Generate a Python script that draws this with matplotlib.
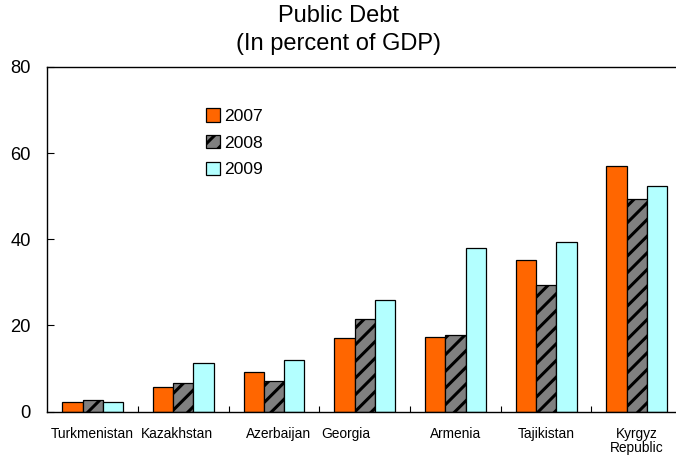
import matplotlib.pyplot as plt
import numpy as np
from matplotlib.patches import Patch

plt.rcParams['font.family'] = ['Liberation Sans', 'DejaVu Sans']
plt.rcParams['hatch.linewidth'] = 2.2

countries = ["Turkmenistan", "Kazakhstan", "Azerbaijan", "Georgia",
             "Armenia", "Tajikistan", "Kyrgyz\nRepublic"]
debt_2007 = [2.3, 5.8, 9.1, 17.2, 17.4, 35.3, 57.0]
debt_2008 = [2.8, 6.7, 7.2, 21.6, 17.9, 29.3, 49.3]
debt_2009 = [2.3, 11.4, 11.9, 26.0, 37.9, 39.3, 52.3]
# small nudges for the category names under the groups
label_shift = [0.0, -0.075, 0.045, -0.205, 0.0, 0.0, 0.0]

fig = plt.figure(figsize=(6.76, 4.55), dpi=100)
ax = fig.add_axes([0.07, 0.0952, 0.939, 0.758])

x = np.arange(len(countries))
w = 0.224
ax.bar(x - w, debt_2007, w, color="#FF6600", edgecolor="black", linewidth=0.9)
ax.bar(x, debt_2008, w, color="#808080", edgecolor="black", linewidth=0.9, hatch="//")
ax.bar(x + w, debt_2009, w, color="#B3FFFF", edgecolor="black", linewidth=0.9)

ax.set_xlim(-0.5, len(countries) - 0.5)
ax.set_ylim(0, 80)
ax.set_yticks([0, 20, 40, 60, 80])
ax.tick_params(axis="y", direction="in", length=5, labelsize=13.2, pad=12)
ax.set_xticks(x[:-1] + 0.5)
ax.set_xticklabels([])
ax.tick_params(axis="x", direction="in", length=4)

for i, name in enumerate(countries):
    ax.text(i + label_shift[i], -3.6, name, ha="center", va="top",
            fontsize=9.9, linespacing=1.0)

for s in ax.spines.values():
    s.set_linewidth(1.0)

fig.text(0.5, 0.99, "Public Debt\n(In percent of GDP)", ha="center", va="top",
         fontsize=17, linespacing=1.4)

handles = [Patch(facecolor="#FF6600", edgecolor="black", linewidth=0.9),
           Patch(facecolor="#808080", edgecolor="black", linewidth=0.9, hatch="//"),
           Patch(facecolor="#B3FFFF", edgecolor="black", linewidth=0.9)]
ax.legend(handles, ["2007", "2008", "2009"], frameon=False, fontsize=12.6,
          loc="upper left", bbox_to_anchor=(0.225, 0.925),
          handlelength=0.8, handleheight=0.8, handletextpad=0.25,
          labelspacing=0.62)

fig.savefig("out.png", dpi=100)
